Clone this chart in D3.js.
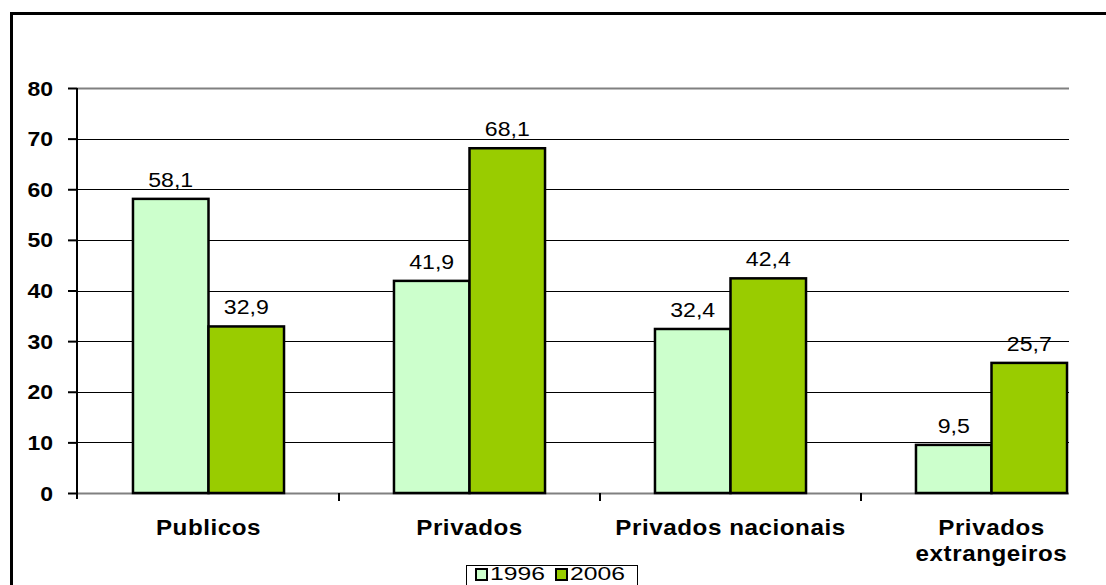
<!DOCTYPE html>
<html>
<head>
<meta charset="utf-8">
<script src="https://cdn.jsdelivr.net/npm/d3@7"></script>
<style>
html,body{margin:0;padding:0;background:#fff;overflow:hidden;}
svg{display:block;font-family:"Liberation Sans",Arial,sans-serif;}
</style>
</head>
<body>
<svg id="chart" width="1106" height="585"></svg>
<script>
const categories = [["Publicos"], ["Privados"], ["Privados nacionais"], ["Privados", "extrangeiros"]];
const categoryKeys = ["Publicos", "Privados", "Privados nacionais", "Privados extrangeiros"];
const seriesNames = ["1996", "2006"];
const values1996 = [58.1, 41.9, 32.4, 9.5];
const values2006 = [32.9, 68.1, 42.4, 25.7];
const seriesColors = ["#CCFFCC", "#99CC00"];
const yTicks = [0, 10, 20, 30, 40, 50, 60, 70, 80];

const svg = d3.select("#chart");
const plotLeft = 77, plotTop = 88, plotBottom = 493, gridRight = 1069;

// outer border (cropped on right/bottom)
svg.append("rect").attr("x", 11.5).attr("y", 13.5).attr("width", 1200).attr("height", 700)
  .attr("fill", "none").attr("stroke", "#000").attr("stroke-width", 3);

const y = d3.scaleLinear().domain([0, 80]).range([plotBottom, plotTop]);
const x0 = d3.scaleBand().domain(categoryKeys).range([78, 1122]).padding(0);
const x1 = d3.scaleBand().domain(seriesNames).range([0, x0.bandwidth()]).paddingInner(0).paddingOuter(0.728);

// gridlines
svg.append("g").selectAll("line").data(yTicks).join("line")
  .attr("x1", plotLeft).attr("x2", gridRight)
  .attr("y1", d => Math.round(y(d)) + 0.5).attr("y2", d => Math.round(y(d)) + 0.5)
  .attr("stroke", d => (d === 0 || d === 80) ? "#808080" : "#000")
  .attr("stroke-width", d => (d === 0 || d === 80) ? 2 : 1);

// y axis
const yAxis = d3.axisLeft(y).tickValues(yTicks).tickSize(9).tickPadding(0).tickFormat(d3.format("d"));
const ya = svg.append("g").attr("transform", `translate(${plotLeft},0)`).call(yAxis);
ya.select(".domain").remove();
ya.selectAll(".tick line").attr("stroke", "#000").attr("stroke-width", 2);
ya.selectAll(".tick text").attr("font-size", 20).attr("font-weight", "bold").attr("fill", "#000")
  .attr("font-family", "Liberation Sans, Arial, sans-serif")
  .attr("x", null).attr("dy", "0.35em")
  .attr("transform", "translate(-24,0) scale(1.15,1)");
svg.append("line").attr("x1", plotLeft).attr("x2", plotLeft).attr("y1", plotTop).attr("y2", plotBottom + 6)
  .attr("stroke", "#000").attr("stroke-width", 2);

// x category boundary ticks
const boundaries = categoryKeys.slice(1).map(c => x0(c));
svg.append("g").selectAll("line").data(boundaries).join("line")
  .attr("x1", d => d).attr("x2", d => d).attr("y1", plotBottom).attr("y2", plotBottom + 8)
  .attr("stroke", "#000").attr("stroke-width", 2);

// bars
const rows = categoryKeys.map((c, i) => ({cat: c, vals: [values1996[i], values2006[i]]}));
const groups = svg.append("g").selectAll("g").data(rows).join("g")
  .attr("transform", d => `translate(${x0(d.cat)},0)`);
groups.selectAll("rect").data(d => d.vals.map((v, j) => ({s: seriesNames[j], v, j}))).join("rect")
  .attr("x", d => x1(d.s)).attr("width", x1.bandwidth())
  .attr("y", d => y(d.v)).attr("height", d => y(0) - y(d.v))
  .attr("fill", d => seriesColors[d.j]).attr("stroke", "#000").attr("stroke-width", 2.5);
groups.selectAll("text").data(d => d.vals.map((v, j) => ({s: seriesNames[j], v, j}))).join("text")
  .attr("text-anchor", "middle").attr("font-size", 21).attr("fill", "#000")
  .attr("transform", d => `translate(${x1(d.s) + x1.bandwidth() / 2},${y(d.v) - 12}) scale(1.1,1)`)
  .text(d => d.v.toFixed(1).replace(".", ","));

// category labels
categories.forEach((lines, i) => {
  const cx = x0(categoryKeys[i]) + x0.bandwidth() / 2;
  const t = svg.append("text").attr("text-anchor", "middle").attr("font-size", 22)
    .attr("font-weight", "bold").attr("fill", "#000").attr("letter-spacing", 0.5)
    .attr("transform", `translate(${cx},535) scale(1.1,1)`);
  lines.forEach((l, k) => t.append("tspan").attr("x", 0).attr("dy", k === 0 ? 0 : 26).text(l));
});

// legend
const lg = svg.append("g");
lg.append("rect").attr("x", 466.5).attr("y", 565.5).attr("width", 171).attr("height", 40)
  .attr("fill", "#fff").attr("stroke", "#000").attr("stroke-width", 1);
const legendX = [476, 556];
seriesNames.forEach((s, i) => {
  lg.append("rect").attr("x", legendX[i]).attr("y", 569).attr("width", 11).attr("height", 11)
    .attr("fill", seriesColors[i]).attr("stroke", "#000").attr("stroke-width", 2);
  lg.append("text").attr("font-size", 19).attr("fill", "#000")
    .attr("transform", `translate(${legendX[i] + 14},580) scale(1.3,1)`).text(s);
});
</script>
</body>
</html>
